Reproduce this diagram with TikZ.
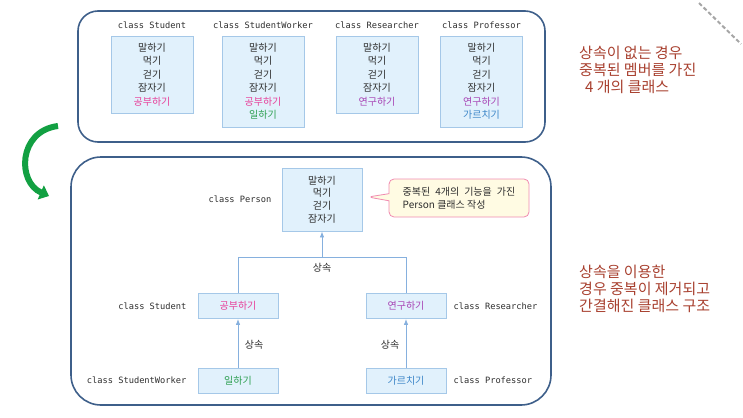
\documentclass[tikz,border=0pt]{standalone}
\usepackage{fontspec}
\setmainfont{Noto Sans CJK KR}
\newfontfamily\codefont{DejaVu Sans Mono}
\usetikzlibrary{positioning,arrows.meta,shapes.callouts}

\definecolor{boxfill}{HTML}{E1F1FC}
\definecolor{boxline}{HTML}{A5C8E8}
\definecolor{framecol}{HTML}{3E5F8A}
\definecolor{linkcol}{HTML}{86B0DE}
\definecolor{textgray}{HTML}{2E2E2E}
\definecolor{pinkc}{HTML}{E8409A}
\definecolor{greenc}{HTML}{2FA052}
\definecolor{purplec}{HTML}{A845B5}
\definecolor{bluec}{HTML}{3C86C8}
\definecolor{notecol}{HTML}{A8402F}
\definecolor{memofill}{HTML}{FFFBE3}
\definecolor{memoline}{HTML}{F08AB0}
\definecolor{turncol}{HTML}{12A042}

\begin{document}
\begin{tikzpicture}[x=1pt,y=-1pt,
  member/.style={draw=boxline,fill=boxfill,line width=0.8pt,minimum width=82pt,align=center,inner sep=0pt,font=\fontsize{10}{13.5}\selectfont,text=textgray},
  clsname/.style={font=\codefont\fontsize{8.7}{10}\selectfont,text=textgray,inner sep=1pt},
  frame/.style={draw=framecol,line width=1.6pt},
  inherit/.style={draw=linkcol,line width=0.8pt},
  inhlabel/.style={font=\fontsize{10}{12}\selectfont,text=textgray,inner sep=1pt},
  note/.style={font=\fontsize{15}{17}\selectfont,text=notecol,align=left,anchor=west,inner sep=0pt}]
\useasboundingbox (0,0) rectangle (743,417);

\draw[frame,rounded corners=20pt] (78,11) rectangle (545,142);
\draw[frame,rounded corners=30pt] (71,157) rectangle (551,405);

\node[member,minimum height=77pt] (stuA) at (152,74.5) {말하기\\먹기\\걷기\\잠자기\\\textcolor{pinkc}{공부하기}};
\node[member,minimum height=91pt] (swA) at (263,81.5) {말하기\\먹기\\걷기\\잠자기\\\textcolor{pinkc}{공부하기}\\\textcolor{greenc}{일하기}};
\node[member,minimum height=77pt] (resA) at (377,74.5) {말하기\\먹기\\걷기\\잠자기\\\textcolor{purplec}{연구하기}};
\node[member,minimum height=91pt] (profA) at (481.5,81.5) {말하기\\먹기\\걷기\\잠자기\\\textcolor{purplec}{연구하기}\\\textcolor{bluec}{가르치기}};
\node[clsname,above=6pt of stuA] (stuAname) {class Student};
\node[clsname,above=6pt of swA.north,anchor=south] (swAname) {class StudentWorker};
\node[clsname,above=6pt of resA] (resAname) {class Researcher};
\node[clsname,above=6pt of profA.north,anchor=south] (profAname) {class Professor};

\node[note] (noteA) at (579,69.5) {상속이 없는 경우\\중복된 멤버를 가진\\\hspace*{6pt}4 개의 클래스};
\node[note] (noteB) at (579,289) {상속을 이용한\\경우 중복이 제거되고\\간결해진 클래스 구조};

\draw[gray!70,line width=2pt,dash pattern=on 4pt off 2.5pt] (699,3) -- (741,44);
\draw[turncol,line width=6pt,-{Triangle[width=15pt,length=9pt]}] (58,126) .. controls (18,131) and (17,182) .. (49,196);

\node[member,minimum width=80pt,minimum height=63pt,font=\fontsize{10}{12.8}\selectfont] (per) at (322,199.5) {말하기\\먹기\\걷기\\잠자기};
\node[member,minimum width=80pt,minimum height=25pt,text=pinkc] (stuB) at (238,306) {공부하기};
\node[member,minimum width=80pt,minimum height=25pt,text=greenc] (swB) at (238,380.5) {일하기};
\node[member,minimum width=80pt,minimum height=25pt,text=purplec] (resB) at (406,306) {연구하기};
\node[member,minimum width=80pt,minimum height=25pt,text=bluec] (profB) at (406,380.5) {가르치기};
\node[clsname,left=9pt of per] (perName) {class Person};
\node[clsname,left=10pt of stuB] (stuBname) {class Student};
\node[clsname,left=10pt of swB] (swBname) {class StudentWorker};
\node[clsname,right=6pt of resB] (resBname) {class Researcher};
\node[clsname,right=6pt of profB] (profBname) {class Professor};

\coordinate (fork) at (322,257);
\draw[inherit,-{Latex[length=6pt,width=4.5pt]}] (fork) -- (per);
\draw[inherit] (stuB.north) -- (stuB.north |- fork) -- (resB.north |- fork) -- (resB.north);
\draw[inherit,-{Latex[length=6pt,width=4.5pt]}] (swB) -- (stuB);
\draw[inherit,-{Latex[length=6pt,width=4.5pt]}] (profB) -- (resB);
\node[inhlabel] (inhA) at (322,268) {상속};
\node[inhlabel] (inhB) at (254,345) {상속};
\node[inhlabel] (inhC) at (390,345) {상속};

\node[rectangle callout,draw=memoline,fill=memofill,rounded corners=5pt,line width=0.8pt,callout absolute pointer={(368,197)},minimum width=140pt,minimum height=38pt,align=left,font=\fontsize{10}{13}\selectfont,text=textgray] (memo) at (459,198) {\spaceskip=5pt\relax 중복된 4개의 기능을 가진\\Person 클래스 작성};
\end{tikzpicture}
\end{document}
